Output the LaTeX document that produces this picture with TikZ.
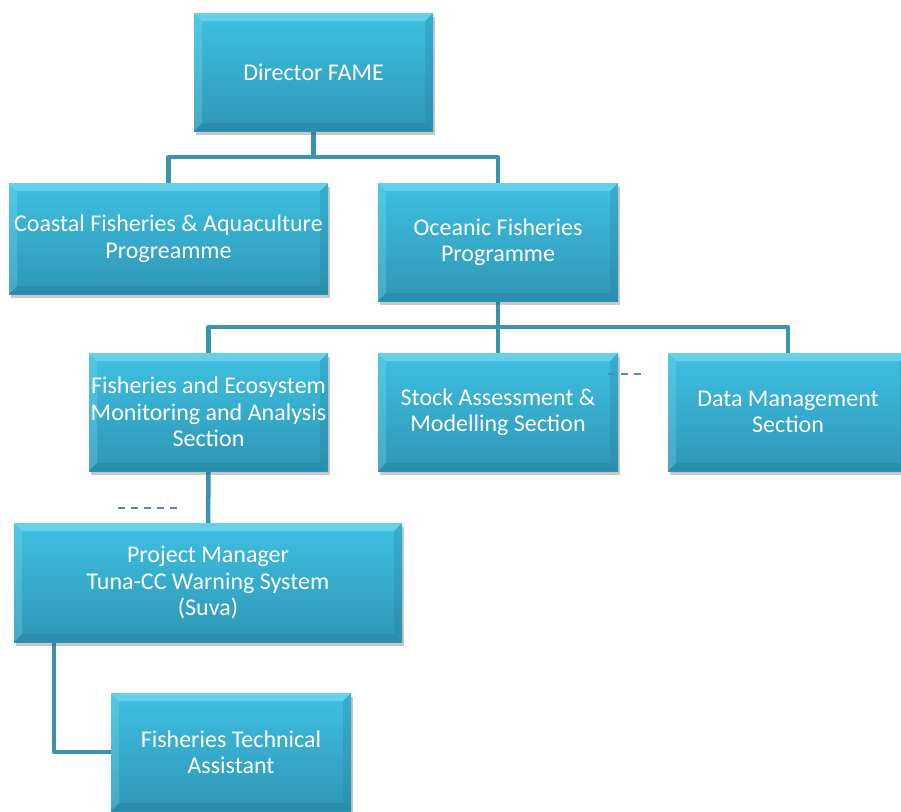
\documentclass[tikz,border=0pt]{standalone}
\usepackage{fontspec}
\setmainfont{Carlito}
\usetikzlibrary{shadows}
\definecolor{boxtop}{HTML}{3EC0E2}
\definecolor{boxbot}{HTML}{2F96B6}
\definecolor{bevlight}{HTML}{8EE2F6}
\definecolor{bevdark}{HTML}{237C98}
\definecolor{connc}{HTML}{3A94AE}
\definecolor{dashc}{HTML}{5A86C6}
\pgfdeclarelayer{bg}
\pgfsetlayers{bg,main}
\tikzset{
  orgbox/.style={rectangle, inner sep=0pt, align=center, text=white,
    font=\fontsize{24}{26.5}\selectfont,
    top color=boxtop, bottom color=boxbot,
    drop shadow={shadow xshift=2pt, shadow yshift=-4pt, opacity=0.3, fill=black!70},
    path picture={
      \def\bv{8pt}
      \fill[bevlight, opacity=0.5] (path picture bounding box.north west) -- (path picture bounding box.north east)
        -- ([shift={(-\bv,-\bv)}]path picture bounding box.north east) -- ([shift={(\bv,-\bv)}]path picture bounding box.north west) -- cycle;
      \fill[bevlight, opacity=0.25] (path picture bounding box.north west) -- (path picture bounding box.south west)
        -- ([shift={(\bv,\bv)}]path picture bounding box.south west) -- ([shift={(\bv,-\bv)}]path picture bounding box.north west) -- cycle;
      \fill[bevdark, opacity=0.25] (path picture bounding box.north east) -- (path picture bounding box.south east)
        -- ([shift={(-\bv,\bv)}]path picture bounding box.south east) -- ([shift={(-\bv,-\bv)}]path picture bounding box.north east) -- cycle;
      \fill[bevdark, opacity=0.35] (path picture bounding box.south west) -- (path picture bounding box.south east)
        -- ([shift={(-\bv,\bv)}]path picture bounding box.south east) -- ([shift={(\bv,\bv)}]path picture bounding box.south west) -- cycle;
    }},
  conn/.style={draw=connc, line width=4.5pt, line join=round},
  dashln/.style={draw=dashc, line width=1.6pt, dash pattern=on 7pt off 6pt}
}
\begin{document}
\begin{tikzpicture}[x=1pt, y=-1pt]
\useasboundingbox (0,0) rectangle (901,811);
\begin{pgfonlayer}{bg}
\fill[white] (0,0) rectangle (901,811);
\end{pgfonlayer}
\node[orgbox, minimum width=239pt, minimum height=118pt] (dir) at (313.5,72) {Director FAME};
\node[orgbox, minimum width=319pt, minimum height=111pt] (coast) at (168.5,238.5) {Coastal Fisheries \& Aquaculture\\Progreamme};
\node[orgbox, minimum width=240pt, minimum height=118pt] (oce) at (498,242) {Oceanic Fisheries\\Programme};
\node[orgbox, minimum width=239pt, minimum height=118pt] (fema) at (208.5,412) {Fisheries and Ecosystem\\Monitoring and Analysis\\Section};
\node[orgbox, minimum width=240pt, minimum height=118pt] (stock) at (498,412) {Stock Assessment \&\\Modelling Section};
\node[orgbox, minimum width=240pt, minimum height=118pt] (data) at (788,412) {Data Management\\Section};
\node[orgbox, minimum width=388pt, minimum height=119pt] (pm) at (208,582.5) {Project Manager\\Tuna-CC Warning System\\(Suva)};
\node[orgbox, minimum width=240pt, minimum height=118pt] (fta) at (231,752) {Fisheries Technical\\Assistant};
\begin{pgfonlayer}{bg}
\draw[conn] (dir.south) -- ++(0,26) -| (coast.north);
\draw[conn] (dir.south) -- ++(0,26) -| (oce.north);
\draw[conn] (oce.south) -- ++(0,26) -| (fema.north);
\draw[conn] (oce.south) -- ++(0,26) -| (stock.north);
\draw[conn] (oce.south) -- ++(0,26) -| (data.north);
\draw[conn] (fema.south) -- (pm.north);
\draw[conn] ([xshift=40pt]pm.south west) |- (fta.west);
\end{pgfonlayer}
\coordinate (d1a) at (608,374);
\coordinate (d1b) at (646,374);
\coordinate (d2a) at (118,508);
\coordinate (d2b) at (178,508);
\draw[dashln] (d1a) -- (d1b);
\draw[dashln] (d2a) -- (d2b);
\end{tikzpicture}
\end{document}
